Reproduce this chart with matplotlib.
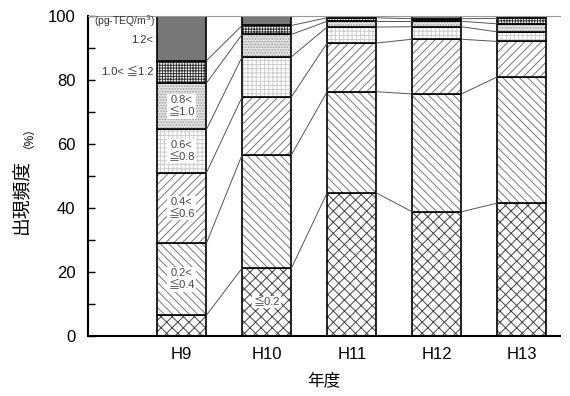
import numpy as np
import matplotlib.pyplot as plt

plt.rcParams['font.family'] = ['Liberation Sans', 'Noto Sans CJK JP', 'DejaVu Sans']
plt.rcParams['hatch.linewidth'] = 0.7

years = ["H9", "H10", "H11", "H12", "H13"]

# share (%) of each concentration class (pg-TEQ/m3) per year
le_02 = [6.5, 21.2, 44.7, 38.8, 41.5]
c02_04 = [22.5, 35.4, 31.6, 36.8, 39.4]
c04_06 = [22.0, 18.1, 15.2, 17.1, 11.1]
c06_08 = [13.5, 12.5, 5.0, 3.9, 3.0]
c08_10 = [14.5, 7.0, 1.8, 1.7, 2.5]
c10_12 = [7.0, 2.8, 1.1, 0.8, 1.7]
gt_12 = [14.0, 3.0, 0.6, 0.9, 0.8]

series = [le_02, c02_04, c04_06, c06_08, c08_10, c10_12, gt_12]
# (face, hatch, hatch colour)
styles = [
    ("white", "xxx", "#444444"),
    ("white", "\\\\\\\\", "#777777"),
    ("white", "////", "#777777"),
    ("white", "++++", "#cccccc"),
    ("#e2e2e2", "......", "#999999"),
    ("white", "++++++", "#333333"),
    ("#777777", "", "#777777"),
]

fig = plt.figure(figsize=(5.7, 3.96), dpi=100)
ax = fig.add_axes([0.154, 0.1515, 0.828, 0.8085])

x = np.arange(len(years))
w = 0.58
bottom = np.zeros(len(years))
tops = []
for vals, (fc, hatch, hc) in zip(series, styles):
    vals = np.array(vals)
    ax.bar(x, vals, w, bottom=bottom, color=fc, hatch=hatch, edgecolor=hc, linewidth=0)
    ax.bar(x, vals, w, bottom=bottom, fill=False, edgecolor="black", linewidth=1.2)
    bottom = bottom + vals
    tops.append(bottom.copy())

# thin connectors between bars at each class boundary
for t in tops[:-1]:
    for i in range(len(years) - 1):
        ax.plot([x[i] + w / 2, x[i + 1] - w / 2], [t[i], t[i + 1]],
                color="#555555", linewidth=0.7)

# labels inside the H9 bar
box = dict(facecolor="white", edgecolor="none", pad=0.8)
lab = [("0.2<\n≦0.4", 1), ("0.4<\n≦0.6", 2), ("0.6<\n≦0.8", 3), ("0.8<\n≦1.0", 4)]
cum = np.cumsum([s[0] for s in series])
for txt, k in lab:
    ym = (cum[k] + cum[k - 1]) / 2
    ax.text(x[0], ym, txt, ha="center", va="center", fontsize=8, color="#444444",
            bbox=box, linespacing=1.3)
ax.text(x[1], le_02[1] / 2, "≦0.2", ha="center", va="center", fontsize=8,
        color="#444444", bbox=box)

ax.text(x[0] - w / 2 - 0.02, 98.3, "(pg-TEQ/m$^3$)", ha="right", va="center",
        fontsize=7.5, color="#333333")
ax.text(x[0] - w / 2 - 0.05, 92.5, "1.2<", ha="right", va="center", fontsize=8,
        color="#333333")
ax.text(x[0] - w / 2 - 0.04, 82.5, "1.0< ≦1.2", ha="right", va="center", fontsize=8,
        color="#333333")

ax.set_xlim(-1.106, 4.447)
ax.set_ylim(0, 100)
ax.set_xticks(x)
ax.set_xticklabels(years, fontsize=12)
ax.set_yticks(np.arange(0, 101, 20))
ax.set_yticks(np.arange(10, 100, 20), minor=True)
ax.tick_params(axis="y", which="both", direction="in", length=5, labelsize=12,
               width=1, pad=9)
ax.tick_params(axis="x", length=0, pad=8)

ax.spines["right"].set_visible(False)
ax.spines["top"].set_color("#999999")
ax.spines["left"].set_linewidth(1.5)
ax.spines["bottom"].set_linewidth(1.5)

ax.set_xlabel("年度", fontsize=12, labelpad=7)
fig.text(0.039, 0.503, "出現頻度", rotation=90, ha="center", va="center", fontsize=13.5)
fig.text(0.039, 0.669, "（%）", rotation=90, ha="center", va="center", fontsize=8.5)

fig.savefig("out.png", dpi=100)
